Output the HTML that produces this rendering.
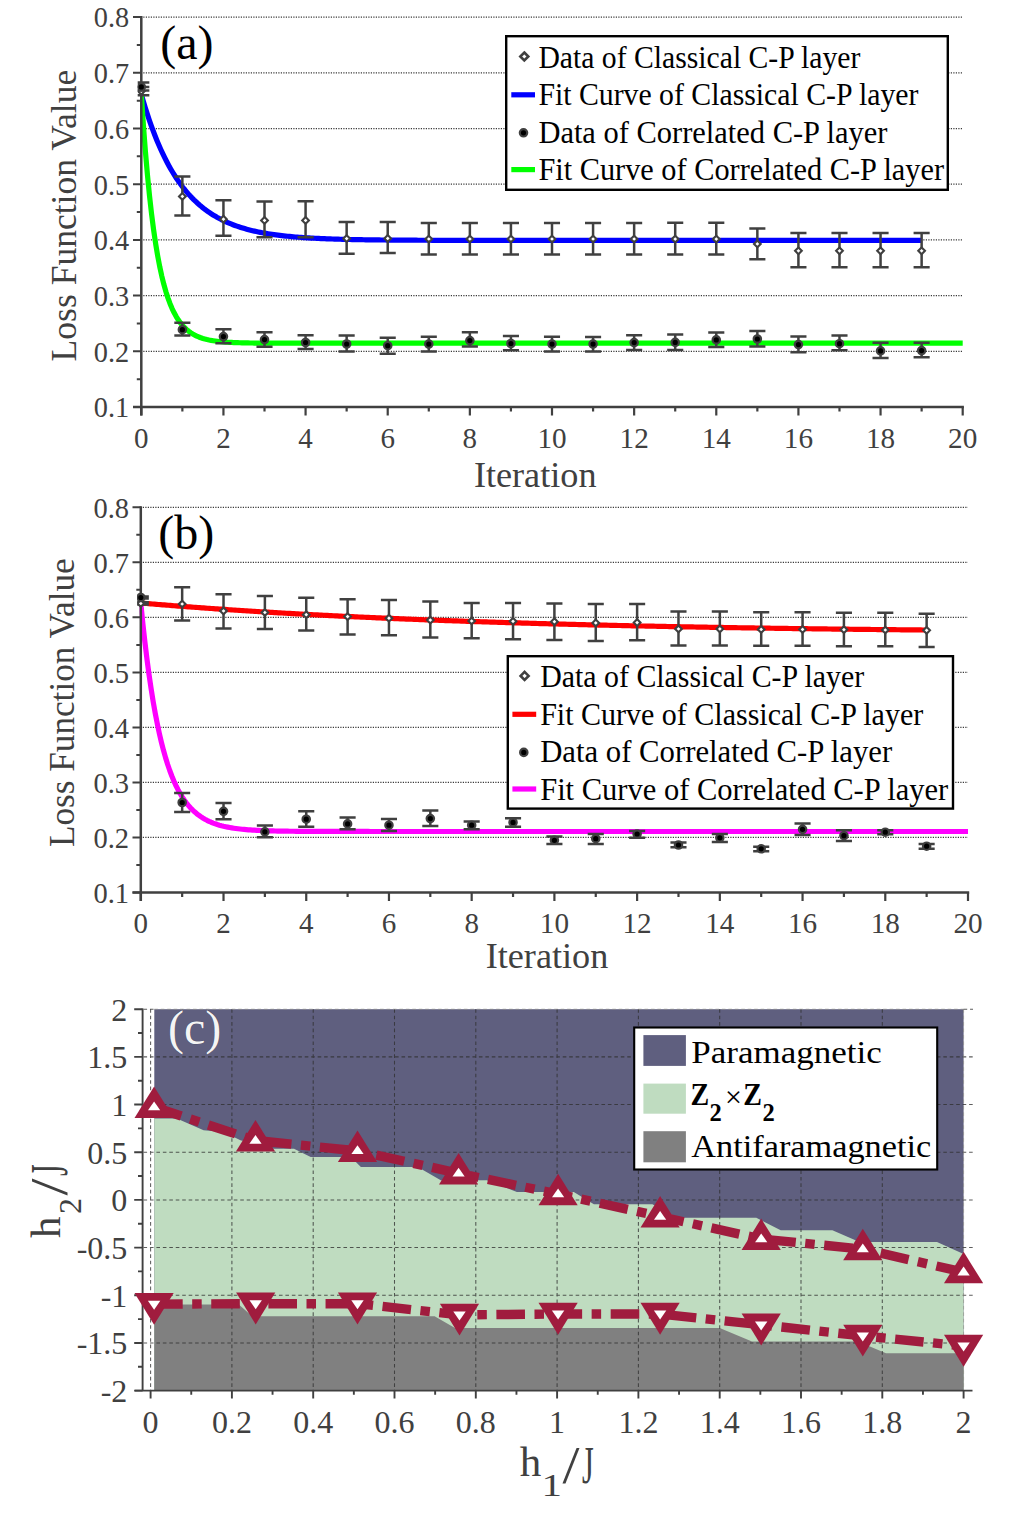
<!DOCTYPE html>
<html><head><meta charset="utf-8"><title>Figure</title>
<style>html,body{margin:0;padding:0;background:#fff}svg{display:block}text{font-family:"Liberation Serif",serif}</style>
</head><body>
<svg width="1016" height="1532" viewBox="0 0 1016 1532" font-family="'Liberation Serif', serif">
<rect width="1016" height="1532" fill="#fff"/>
<line x1="143.3" y1="351.3" x2="962.7" y2="351.3" stroke="#3a3a3a" stroke-width="1.25" stroke-dasharray="1.2 1.3"/>
<line x1="143.3" y1="295.6" x2="962.7" y2="295.6" stroke="#3a3a3a" stroke-width="1.25" stroke-dasharray="1.2 1.3"/>
<line x1="143.3" y1="239.9" x2="962.7" y2="239.9" stroke="#3a3a3a" stroke-width="1.25" stroke-dasharray="1.2 1.3"/>
<line x1="143.3" y1="184.2" x2="962.7" y2="184.2" stroke="#3a3a3a" stroke-width="1.25" stroke-dasharray="1.2 1.3"/>
<line x1="143.3" y1="128.5" x2="962.7" y2="128.5" stroke="#3a3a3a" stroke-width="1.25" stroke-dasharray="1.2 1.3"/>
<line x1="143.3" y1="72.8" x2="962.7" y2="72.8" stroke="#3a3a3a" stroke-width="1.25" stroke-dasharray="1.2 1.3"/>
<line x1="143.3" y1="17.1" x2="962.7" y2="17.1" stroke="#3a3a3a" stroke-width="1.25" stroke-dasharray="1.2 1.3"/>
<clipPath id="cca"><rect x="140.1" y="7.1" width="900" height="409.9"/></clipPath>
<clipPath id="cma"><rect x="137.7" y="7.1" width="900" height="409.9"/></clipPath>
<polyline points="141.3 94.19 143.25 100.97 145.2 107.44 147.15 113.61 149.1 119.49 151.05 125.1 153 130.45 154.96 135.55 156.91 140.41 158.86 145.05 160.81 149.47 162.76 153.69 164.71 157.71 166.66 161.55 168.61 165.21 170.56 168.7 172.51 172.02 174.46 175.19 176.41 178.22 178.37 181.1 180.32 183.85 182.27 186.48 184.22 188.98 186.17 191.36 188.12 193.64 190.07 195.81 192.02 197.88 193.97 199.85 195.92 201.73 197.87 203.53 199.82 205.24 201.78 206.87 203.73 208.42 205.68 209.91 207.63 211.32 209.58 212.67 211.53 213.96 213.48 215.18 215.43 216.35 217.38 217.47 219.33 218.53 221.28 219.55 223.23 220.51 225.19 221.44 227.14 222.32 229.09 223.16 231.04 223.96 232.99 224.72 234.94 225.45 236.89 226.14 238.84 226.8 240.79 227.43 242.74 228.03 244.69 228.61 246.64 229.15 248.6 229.68 250.55 230.17 252.5 230.65 254.45 231.1 256.4 231.53 258.35 231.94 260.3 232.34 262.25 232.71 264.2 233.07 266.15 233.41 268.1 233.73 270.05 234.04 272.01 234.34 273.96 234.62 275.91 234.89 277.86 235.14 279.81 235.39 281.76 235.62 283.71 235.84 285.66 236.05 287.61 236.25 289.56 236.45 291.51 236.63 293.46 236.8 295.42 236.97 297.37 237.13 299.32 237.28 301.27 237.43 303.22 237.56 305.17 237.7 307.12 237.82 309.07 237.94 311.02 238.06 312.97 238.16 314.92 238.27 316.87 238.37 318.83 238.46 320.78 238.55 322.73 238.64 324.68 238.72 326.63 238.8 328.58 238.87 330.53 238.94 332.48 239.01 334.43 239.07 336.38 239.14 338.33 239.19 340.28 239.25 342.23 239.3 344.19 239.36 346.14 239.4 348.09 239.45 350.04 239.49 351.99 239.54 353.94 239.58 355.89 239.61 357.84 239.65 359.79 239.69 361.74 239.72 363.69 239.75 365.64 239.78 367.6 239.81 369.55 239.84 371.5 239.86 373.45 239.89 375.4 239.91 377.35 239.93 379.3 239.96 381.25 239.98 383.2 240 385.15 240.02 387.1 240.03 389.05 240.05 391.01 240.07 392.96 240.08 394.91 240.1 396.86 240.11 398.81 240.12 400.76 240.14 402.71 240.15 404.66 240.16 406.61 240.17 408.56 240.18 410.51 240.19 412.46 240.2 414.42 240.21 416.37 240.22 418.32 240.23 420.27 240.24 422.22 240.24 424.17 240.25 426.12 240.26 428.07 240.27 430.02 240.27 431.97 240.28 433.92 240.28 435.87 240.29 437.83 240.29 439.78 240.3 441.73 240.3 443.68 240.31 445.63 240.31 447.58 240.32 449.53 240.32 451.48 240.32 453.43 240.33 455.38 240.33 457.33 240.33 459.28 240.34 461.24 240.34 463.19 240.34 465.14 240.35 467.09 240.35 469.04 240.35 470.99 240.35 472.94 240.36 474.89 240.36 476.84 240.36 478.79 240.36 480.74 240.36 482.69 240.37 484.65 240.37 486.6 240.37 488.55 240.37 490.5 240.37 492.45 240.37 494.4 240.37 496.35 240.38 498.3 240.38 500.25 240.38 502.2 240.38 504.15 240.38 506.1 240.38 508.06 240.38 510.01 240.38 511.96 240.38 513.91 240.38 515.86 240.39 517.81 240.39 519.76 240.39 521.71 240.39 523.66 240.39 525.61 240.39 527.56 240.39 529.51 240.39 531.47 240.39 533.42 240.39 535.37 240.39 537.32 240.39 539.27 240.39 541.22 240.39 543.17 240.39 545.12 240.39 547.07 240.39 549.02 240.39 550.97 240.39 552.92 240.39 554.87 240.4 556.83 240.4 558.78 240.4 560.73 240.4 562.68 240.4 564.63 240.4 566.58 240.4 568.53 240.4 570.48 240.4 572.43 240.4 574.38 240.4 576.33 240.4 578.28 240.4 580.24 240.4 582.19 240.4 584.14 240.4 586.09 240.4 588.04 240.4 589.99 240.4 591.94 240.4 593.89 240.4 595.84 240.4 597.79 240.4 599.74 240.4 601.69 240.4 603.65 240.4 605.6 240.4 607.55 240.4 609.5 240.4 611.45 240.4 613.4 240.4 615.35 240.4 617.3 240.4 619.25 240.4 621.2 240.4 623.15 240.4 625.1 240.4 627.06 240.4 629.01 240.4 630.96 240.4 632.91 240.4 634.86 240.4 636.81 240.4 638.76 240.4 640.71 240.4 642.66 240.4 644.61 240.4 646.56 240.4 648.51 240.4 650.47 240.4 652.42 240.4 654.37 240.4 656.32 240.4 658.27 240.4 660.22 240.4 662.17 240.4 664.12 240.4 666.07 240.4 668.02 240.4 669.97 240.4 671.92 240.4 673.88 240.4 675.83 240.4 677.78 240.4 679.73 240.4 681.68 240.4 683.63 240.4 685.58 240.4 687.53 240.4 689.48 240.4 691.43 240.4 693.38 240.4 695.33 240.4 697.29 240.4 699.24 240.4 701.19 240.4 703.14 240.4 705.09 240.4 707.04 240.4 708.99 240.4 710.94 240.4 712.89 240.4 714.84 240.4 716.79 240.4 718.74 240.4 720.7 240.4 722.65 240.4 724.6 240.4 726.55 240.4 728.5 240.4 730.45 240.4 732.4 240.4 734.35 240.4 736.3 240.4 738.25 240.4 740.2 240.4 742.15 240.4 744.1 240.4 746.06 240.4 748.01 240.4 749.96 240.4 751.91 240.4 753.86 240.4 755.81 240.4 757.76 240.4 759.71 240.4 761.66 240.4 763.61 240.4 765.56 240.4 767.51 240.4 769.47 240.4 771.42 240.4 773.37 240.4 775.32 240.4 777.27 240.4 779.22 240.4 781.17 240.4 783.12 240.4 785.07 240.4 787.02 240.4 788.97 240.4 790.92 240.4 792.88 240.4 794.83 240.4 796.78 240.4 798.73 240.4 800.68 240.4 802.63 240.4 804.58 240.4 806.53 240.4 808.48 240.4 810.43 240.4 812.38 240.4 814.33 240.4 816.29 240.4 818.24 240.4 820.19 240.4 822.14 240.4 824.09 240.4 826.04 240.4 827.99 240.4 829.94 240.4 831.89 240.4 833.84 240.4 835.79 240.4 837.74 240.4 839.7 240.4 841.65 240.4 843.6 240.4 845.55 240.4 847.5 240.4 849.45 240.4 851.4 240.4 853.35 240.4 855.3 240.4 857.25 240.4 859.2 240.4 861.15 240.4 863.11 240.4 865.06 240.4 867.01 240.4 868.96 240.4 870.91 240.4 872.86 240.4 874.81 240.4 876.76 240.4 878.71 240.4 880.66 240.4 882.61 240.4 884.56 240.4 886.52 240.4 888.47 240.4 890.42 240.4 892.37 240.4 894.32 240.4 896.27 240.4 898.22 240.4 900.17 240.4 902.12 240.4 904.07 240.4 906.02 240.4 907.97 240.4 909.93 240.4 911.88 240.4 913.83 240.4 915.78 240.4 917.73 240.4 919.68 240.4 921.63 240.4" fill="none" stroke="#0000ff" stroke-width="5.2" stroke-linejoin="round" clip-path="url(#cca)"/>
<polyline points="141.3 93.69 143.35 124.45 145.41 151.43 147.46 175.07 149.51 195.8 151.57 213.98 153.62 229.91 155.67 243.88 157.73 256.13 159.78 266.87 161.84 276.28 163.89 284.54 165.94 291.77 168 298.11 170.05 303.68 172.1 308.55 174.16 312.83 176.21 316.57 178.26 319.86 180.32 322.74 182.37 325.27 184.42 327.48 186.48 329.42 188.53 331.12 190.58 332.61 192.64 333.92 194.69 335.07 196.74 336.07 198.8 336.96 200.85 337.73 202.91 338.41 204.96 339 207.01 339.52 209.07 339.98 211.12 340.38 213.17 340.73 215.23 341.04 217.28 341.31 219.33 341.54 221.39 341.75 223.44 341.93 225.49 342.09 227.55 342.23 229.6 342.35 231.65 342.46 233.71 342.55 235.76 342.64 237.81 342.71 239.87 342.77 241.92 342.83 243.98 342.88 246.03 342.92 248.08 342.96 250.14 342.99 252.19 343.02 254.24 343.04 256.3 343.07 258.35 343.09 260.4 343.1 262.46 343.12 264.51 343.13 266.56 343.14 268.62 343.15 270.67 343.16 272.72 343.17 274.78 343.18 276.83 343.18 278.88 343.19 280.94 343.19 282.99 343.2 285.05 343.2 287.1 343.2 289.15 343.2 291.21 343.21 293.26 343.21 295.31 343.21 297.37 343.21 299.42 343.21 301.47 343.21 303.53 343.22 305.58 343.22 307.63 343.22 309.69 343.22 311.74 343.22 313.79 343.22 315.85 343.22 317.9 343.22 319.95 343.22 322.01 343.22 324.06 343.22 326.12 343.22 328.17 343.22 330.22 343.22 332.28 343.22 334.33 343.22 336.38 343.22 338.44 343.22 340.49 343.22 342.54 343.22 344.6 343.22 346.65 343.22 348.7 343.22 350.76 343.22 352.81 343.22 354.86 343.22 356.92 343.22 358.97 343.22 361.02 343.22 363.08 343.22 365.13 343.22 367.19 343.22 369.24 343.22 371.29 343.22 373.35 343.22 375.4 343.22 377.45 343.22 379.51 343.22 381.56 343.22 383.61 343.22 385.67 343.22 387.72 343.22 389.77 343.22 391.83 343.22 393.88 343.22 395.93 343.22 397.99 343.22 400.04 343.22 402.09 343.22 404.15 343.22 406.2 343.22 408.25 343.22 410.31 343.22 412.36 343.22 414.42 343.22 416.47 343.22 418.52 343.22 420.58 343.22 422.63 343.22 424.68 343.22 426.74 343.22 428.79 343.22 430.84 343.22 432.9 343.22 434.95 343.22 437 343.22 439.06 343.22 441.11 343.22 443.16 343.22 445.22 343.22 447.27 343.22 449.32 343.22 451.38 343.22 453.43 343.22 455.49 343.22 457.54 343.22 459.59 343.22 461.65 343.22 463.7 343.22 465.75 343.22 467.81 343.22 469.86 343.22 471.91 343.22 473.97 343.22 476.02 343.22 478.07 343.22 480.13 343.22 482.18 343.22 484.23 343.22 486.29 343.22 488.34 343.22 490.4 343.22 492.45 343.22 494.5 343.22 496.56 343.22 498.61 343.22 500.66 343.22 502.72 343.22 504.77 343.22 506.82 343.22 508.88 343.22 510.93 343.22 512.98 343.22 515.04 343.22 517.09 343.22 519.14 343.22 521.2 343.22 523.25 343.22 525.3 343.22 527.36 343.22 529.41 343.22 531.47 343.22 533.52 343.22 535.57 343.22 537.63 343.22 539.68 343.22 541.73 343.22 543.79 343.22 545.84 343.22 547.89 343.22 549.95 343.22 552 343.22 554.05 343.22 556.11 343.22 558.16 343.22 560.21 343.22 562.27 343.22 564.32 343.22 566.37 343.22 568.43 343.22 570.48 343.22 572.54 343.22 574.59 343.22 576.64 343.22 578.7 343.22 580.75 343.22 582.8 343.22 584.86 343.22 586.91 343.22 588.96 343.22 591.02 343.22 593.07 343.22 595.12 343.22 597.18 343.22 599.23 343.22 601.28 343.22 603.34 343.22 605.39 343.22 607.44 343.22 609.5 343.22 611.55 343.22 613.61 343.22 615.66 343.22 617.71 343.22 619.77 343.22 621.82 343.22 623.87 343.22 625.93 343.22 627.98 343.22 630.03 343.22 632.09 343.22 634.14 343.22 636.19 343.22 638.25 343.22 640.3 343.22 642.35 343.22 644.41 343.22 646.46 343.22 648.51 343.22 650.57 343.22 652.62 343.22 654.67 343.22 656.73 343.22 658.78 343.22 660.84 343.22 662.89 343.22 664.94 343.22 667 343.22 669.05 343.22 671.1 343.22 673.16 343.22 675.21 343.22 677.26 343.22 679.32 343.22 681.37 343.22 683.42 343.22 685.48 343.22 687.53 343.22 689.58 343.22 691.64 343.22 693.69 343.22 695.75 343.22 697.8 343.22 699.85 343.22 701.91 343.22 703.96 343.22 706.01 343.22 708.07 343.22 710.12 343.22 712.17 343.22 714.23 343.22 716.28 343.22 718.33 343.22 720.39 343.22 722.44 343.22 724.49 343.22 726.55 343.22 728.6 343.22 730.65 343.22 732.71 343.22 734.76 343.22 736.82 343.22 738.87 343.22 740.92 343.22 742.98 343.22 745.03 343.22 747.08 343.22 749.14 343.22 751.19 343.22 753.24 343.22 755.3 343.22 757.35 343.22 759.4 343.22 761.46 343.22 763.51 343.22 765.56 343.22 767.62 343.22 769.67 343.22 771.72 343.22 773.78 343.22 775.83 343.22 777.88 343.22 779.94 343.22 781.99 343.22 784.05 343.22 786.1 343.22 788.15 343.22 790.21 343.22 792.26 343.22 794.31 343.22 796.37 343.22 798.42 343.22 800.47 343.22 802.53 343.22 804.58 343.22 806.63 343.22 808.69 343.22 810.74 343.22 812.79 343.22 814.85 343.22 816.9 343.22 818.95 343.22 821.01 343.22 823.06 343.22 825.12 343.22 827.17 343.22 829.22 343.22 831.28 343.22 833.33 343.22 835.38 343.22 837.44 343.22 839.49 343.22 841.54 343.22 843.6 343.22 845.65 343.22 847.7 343.22 849.76 343.22 851.81 343.22 853.86 343.22 855.92 343.22 857.97 343.22 860.03 343.22 862.08 343.22 864.13 343.22 866.19 343.22 868.24 343.22 870.29 343.22 872.35 343.22 874.4 343.22 876.45 343.22 878.51 343.22 880.56 343.22 882.61 343.22 884.67 343.22 886.72 343.22 888.77 343.22 890.83 343.22 892.88 343.22 894.93 343.22 896.99 343.22 899.04 343.22 901.1 343.22 903.15 343.22 905.2 343.22 907.26 343.22 909.31 343.22 911.36 343.22 913.42 343.22 915.47 343.22 917.52 343.22 919.58 343.22 921.63 343.22 923.68 343.22 925.74 343.22 927.79 343.22 929.84 343.22 931.9 343.22 933.95 343.22 936 343.22 938.06 343.22 940.11 343.22 942.16 343.22 944.22 343.22 946.27 343.22 948.33 343.22 950.38 343.22 952.43 343.22 954.49 343.22 956.54 343.22 958.59 343.22 960.65 343.22 962.7 343.22" fill="none" stroke="#00ff00" stroke-width="5.2" stroke-linejoin="round" clip-path="url(#cca)"/>
<path d="M141.3 16.1V415.6M133 407H963.9" stroke="#404040" stroke-width="2.5" fill="none"/>
<path d="M133 407H141.3M136.8 379.15H141.3M133 351.3H141.3M136.8 323.45H141.3M133 295.6H141.3M136.8 267.75H141.3M133 239.9H141.3M136.8 212.05H141.3M133 184.2H141.3M136.8 156.35H141.3M133 128.5H141.3M136.8 100.65H141.3M133 72.8H141.3M136.8 44.95H141.3M133 17.1H141.3" stroke="#404040" stroke-width="2" fill="none"/>
<path d="M141.3 407V415.6M182.37 407V411.6M223.44 407V415.6M264.51 407V411.6M305.58 407V415.6M346.65 407V411.6M387.72 407V415.6M428.79 407V411.6M469.86 407V415.6M510.93 407V411.6M552 407V415.6M593.07 407V411.6M634.14 407V415.6M675.21 407V411.6M716.28 407V415.6M757.35 407V411.6M798.42 407V415.6M839.49 407V411.6M880.56 407V415.6M921.63 407V411.6M962.7 407V415.6" stroke="#404040" stroke-width="2.2" fill="none"/>
<text x="129.2" y="417.3" font-size="29" fill="#404040" text-anchor="end" textLength="35.4" lengthAdjust="spacingAndGlyphs">0.1</text>
<text x="129.2" y="361.6" font-size="29" fill="#404040" text-anchor="end" textLength="35.4" lengthAdjust="spacingAndGlyphs">0.2</text>
<text x="129.2" y="305.9" font-size="29" fill="#404040" text-anchor="end" textLength="35.4" lengthAdjust="spacingAndGlyphs">0.3</text>
<text x="129.2" y="250.2" font-size="29" fill="#404040" text-anchor="end" textLength="35.4" lengthAdjust="spacingAndGlyphs">0.4</text>
<text x="129.2" y="194.5" font-size="29" fill="#404040" text-anchor="end" textLength="35.4" lengthAdjust="spacingAndGlyphs">0.5</text>
<text x="129.2" y="138.8" font-size="29" fill="#404040" text-anchor="end" textLength="35.4" lengthAdjust="spacingAndGlyphs">0.6</text>
<text x="129.2" y="83.1" font-size="29" fill="#404040" text-anchor="end" textLength="35.4" lengthAdjust="spacingAndGlyphs">0.7</text>
<text x="129.2" y="27.4" font-size="29" fill="#404040" text-anchor="end" textLength="35.4" lengthAdjust="spacingAndGlyphs">0.8</text>
<text x="141.3" y="447.6" font-size="29" fill="#404040" text-anchor="middle">0</text>
<text x="223.44" y="447.6" font-size="29" fill="#404040" text-anchor="middle">2</text>
<text x="305.58" y="447.6" font-size="29" fill="#404040" text-anchor="middle">4</text>
<text x="387.72" y="447.6" font-size="29" fill="#404040" text-anchor="middle">6</text>
<text x="469.86" y="447.6" font-size="29" fill="#404040" text-anchor="middle">8</text>
<text x="552" y="447.6" font-size="29" fill="#404040" text-anchor="middle" textLength="29.2" lengthAdjust="spacingAndGlyphs">10</text>
<text x="634.14" y="447.6" font-size="29" fill="#404040" text-anchor="middle" textLength="29.2" lengthAdjust="spacingAndGlyphs">12</text>
<text x="716.28" y="447.6" font-size="29" fill="#404040" text-anchor="middle" textLength="29.2" lengthAdjust="spacingAndGlyphs">14</text>
<text x="798.42" y="447.6" font-size="29" fill="#404040" text-anchor="middle" textLength="29.2" lengthAdjust="spacingAndGlyphs">16</text>
<text x="880.56" y="447.6" font-size="29" fill="#404040" text-anchor="middle" textLength="29.2" lengthAdjust="spacingAndGlyphs">18</text>
<text x="962.7" y="447.6" font-size="29" fill="#404040" text-anchor="middle" textLength="29.2" lengthAdjust="spacingAndGlyphs">20</text>
<g clip-path="url(#cma)">
<path d="M141.3 87V95.3M133.25 87H149.35M133.25 95.3H149.35" stroke="#404040" stroke-width="2.5" fill="none"/>
<path d="M182.37 176.4V215.6M174.32 176.4H190.42M174.32 215.6H190.42" stroke="#404040" stroke-width="2.5" fill="none"/>
<path d="M223.44 200.2V235.8M215.39 200.2H231.49M215.39 235.8H231.49" stroke="#404040" stroke-width="2.5" fill="none"/>
<path d="M264.51 201.5V237.3M256.46 201.5H272.56M256.46 237.3H272.56" stroke="#404040" stroke-width="2.5" fill="none"/>
<path d="M305.58 201.2V237.3M297.53 201.2H313.63M297.53 237.3H313.63" stroke="#404040" stroke-width="2.5" fill="none"/>
<path d="M346.65 222V253.7M338.6 222H354.7M338.6 253.7H354.7" stroke="#404040" stroke-width="2.5" fill="none"/>
<path d="M387.72 221.9V252.9M379.67 221.9H395.77M379.67 252.9H395.77" stroke="#404040" stroke-width="2.5" fill="none"/>
<path d="M428.79 223.1V254.4M420.74 223.1H436.84M420.74 254.4H436.84" stroke="#404040" stroke-width="2.5" fill="none"/>
<path d="M469.86 223.1V254.4M461.81 223.1H477.91M461.81 254.4H477.91" stroke="#404040" stroke-width="2.5" fill="none"/>
<path d="M510.93 223.1V254.4M502.88 223.1H518.98M502.88 254.4H518.98" stroke="#404040" stroke-width="2.5" fill="none"/>
<path d="M552 223.1V254.4M543.95 223.1H560.05M543.95 254.4H560.05" stroke="#404040" stroke-width="2.5" fill="none"/>
<path d="M593.07 223.1V254.4M585.02 223.1H601.12M585.02 254.4H601.12" stroke="#404040" stroke-width="2.5" fill="none"/>
<path d="M634.14 223.1V254.4M626.09 223.1H642.19M626.09 254.4H642.19" stroke="#404040" stroke-width="2.5" fill="none"/>
<path d="M675.21 222.8V254.6M667.16 222.8H683.26M667.16 254.6H683.26" stroke="#404040" stroke-width="2.5" fill="none"/>
<path d="M716.28 222.8V254.6M708.23 222.8H724.33M708.23 254.6H724.33" stroke="#404040" stroke-width="2.5" fill="none"/>
<path d="M757.35 228.4V259.3M749.3 228.4H765.4M749.3 259.3H765.4" stroke="#404040" stroke-width="2.5" fill="none"/>
<path d="M798.42 233.1V267.2M790.37 233.1H806.47M790.37 267.2H806.47" stroke="#404040" stroke-width="2.5" fill="none"/>
<path d="M839.49 233.1V267.2M831.44 233.1H847.54M831.44 267.2H847.54" stroke="#404040" stroke-width="2.5" fill="none"/>
<path d="M880.56 233.1V267.2M872.51 233.1H888.61M872.51 267.2H888.61" stroke="#404040" stroke-width="2.5" fill="none"/>
<path d="M921.63 233.1V267.2M913.58 233.1H929.68M913.58 267.2H929.68" stroke="#404040" stroke-width="2.5" fill="none"/>
<path d="M141.3 87.85L144.65 91.2L141.3 94.55L137.95 91.2Z" fill="#fff" stroke="#404040" stroke-width="2.1"/>
<path d="M182.37 193.05L185.72 196.4L182.37 199.75L179.02 196.4Z" fill="#fff" stroke="#404040" stroke-width="2.1"/>
<path d="M223.44 215.85L226.79 219.2L223.44 222.55L220.09 219.2Z" fill="#fff" stroke="#404040" stroke-width="2.1"/>
<path d="M264.51 217.05L267.86 220.4L264.51 223.75L261.16 220.4Z" fill="#fff" stroke="#404040" stroke-width="2.1"/>
<path d="M305.58 217.05L308.93 220.4L305.58 223.75L302.23 220.4Z" fill="#fff" stroke="#404040" stroke-width="2.1"/>
<path d="M346.65 235.25L350 238.6L346.65 241.95L343.3 238.6Z" fill="#fff" stroke="#404040" stroke-width="2.1"/>
<path d="M387.72 235.05L391.07 238.4L387.72 241.75L384.37 238.4Z" fill="#fff" stroke="#404040" stroke-width="2.1"/>
<path d="M428.79 235.65L432.14 239L428.79 242.35L425.44 239Z" fill="#fff" stroke="#404040" stroke-width="2.1"/>
<path d="M469.86 235.65L473.21 239L469.86 242.35L466.51 239Z" fill="#fff" stroke="#404040" stroke-width="2.1"/>
<path d="M510.93 235.65L514.28 239L510.93 242.35L507.58 239Z" fill="#fff" stroke="#404040" stroke-width="2.1"/>
<path d="M552 235.65L555.35 239L552 242.35L548.65 239Z" fill="#fff" stroke="#404040" stroke-width="2.1"/>
<path d="M593.07 235.65L596.42 239L593.07 242.35L589.72 239Z" fill="#fff" stroke="#404040" stroke-width="2.1"/>
<path d="M634.14 235.65L637.49 239L634.14 242.35L630.79 239Z" fill="#fff" stroke="#404040" stroke-width="2.1"/>
<path d="M675.21 235.75L678.56 239.1L675.21 242.45L671.86 239.1Z" fill="#fff" stroke="#404040" stroke-width="2.1"/>
<path d="M716.28 235.75L719.63 239.1L716.28 242.45L712.93 239.1Z" fill="#fff" stroke="#404040" stroke-width="2.1"/>
<path d="M757.35 240.55L760.7 243.9L757.35 247.25L754 243.9Z" fill="#fff" stroke="#404040" stroke-width="2.1"/>
<path d="M798.42 247.45L801.77 250.8L798.42 254.15L795.07 250.8Z" fill="#fff" stroke="#404040" stroke-width="2.1"/>
<path d="M839.49 247.45L842.84 250.8L839.49 254.15L836.14 250.8Z" fill="#fff" stroke="#404040" stroke-width="2.1"/>
<path d="M880.56 247.45L883.91 250.8L880.56 254.15L877.21 250.8Z" fill="#fff" stroke="#404040" stroke-width="2.1"/>
<path d="M921.63 247.45L924.98 250.8L921.63 254.15L918.28 250.8Z" fill="#fff" stroke="#404040" stroke-width="2.1"/>
<path d="M141.3 82.5V90.5M133.25 82.5H149.35M133.25 90.5H149.35" stroke="#404040" stroke-width="2.5" fill="none"/>
<path d="M182.37 322.8V335.5M174.32 322.8H190.42M174.32 335.5H190.42" stroke="#404040" stroke-width="2.5" fill="none"/>
<path d="M223.44 329.2V343.2M215.39 329.2H231.49M215.39 343.2H231.49" stroke="#404040" stroke-width="2.5" fill="none"/>
<path d="M264.51 332.2V346.8M256.46 332.2H272.56M256.46 346.8H272.56" stroke="#404040" stroke-width="2.5" fill="none"/>
<path d="M305.58 335.3V349.1M297.53 335.3H313.63M297.53 349.1H313.63" stroke="#404040" stroke-width="2.5" fill="none"/>
<path d="M346.65 335.5V351.4M338.6 335.5H354.7M338.6 351.4H354.7" stroke="#404040" stroke-width="2.5" fill="none"/>
<path d="M387.72 337.8V353.7M379.67 337.8H395.77M379.67 353.7H395.77" stroke="#404040" stroke-width="2.5" fill="none"/>
<path d="M428.79 336.7V351.5M420.74 336.7H436.84M420.74 351.5H436.84" stroke="#404040" stroke-width="2.5" fill="none"/>
<path d="M469.86 332.3V346.6M461.81 332.3H477.91M461.81 346.6H477.91" stroke="#404040" stroke-width="2.5" fill="none"/>
<path d="M510.93 336.1V350.3M502.88 336.1H518.98M502.88 350.3H518.98" stroke="#404040" stroke-width="2.5" fill="none"/>
<path d="M552 336.7V351.5M543.95 336.7H560.05M543.95 351.5H560.05" stroke="#404040" stroke-width="2.5" fill="none"/>
<path d="M593.07 336.9V351.5M585.02 336.9H601.12M585.02 351.5H601.12" stroke="#404040" stroke-width="2.5" fill="none"/>
<path d="M634.14 335.3V350M626.09 335.3H642.19M626.09 350H642.19" stroke="#404040" stroke-width="2.5" fill="none"/>
<path d="M675.21 334.6V350M667.16 334.6H683.26M667.16 350H683.26" stroke="#404040" stroke-width="2.5" fill="none"/>
<path d="M716.28 332.4V346.9M708.23 332.4H724.33M708.23 346.9H724.33" stroke="#404040" stroke-width="2.5" fill="none"/>
<path d="M757.35 331.1V346.5M749.3 331.1H765.4M749.3 346.5H765.4" stroke="#404040" stroke-width="2.5" fill="none"/>
<path d="M798.42 336.5V352.2M790.37 336.5H806.47M790.37 352.2H806.47" stroke="#404040" stroke-width="2.5" fill="none"/>
<path d="M839.49 335.5V350.3M831.44 335.5H847.54M831.44 350.3H847.54" stroke="#404040" stroke-width="2.5" fill="none"/>
<path d="M880.56 342.8V357.9M872.51 342.8H888.61M872.51 357.9H888.61" stroke="#404040" stroke-width="2.5" fill="none"/>
<path d="M921.63 342.8V357.2M913.58 342.8H929.68M913.58 357.2H929.68" stroke="#404040" stroke-width="2.5" fill="none"/>
<circle cx="141.3" cy="86.9" r="3.7" fill="#000" stroke="#404040" stroke-width="2.2"/>
<circle cx="182.37" cy="329.7" r="3.7" fill="#000" stroke="#404040" stroke-width="2.2"/>
<circle cx="223.44" cy="336.6" r="3.7" fill="#000" stroke="#404040" stroke-width="2.2"/>
<circle cx="264.51" cy="339.6" r="3.7" fill="#000" stroke="#404040" stroke-width="2.2"/>
<circle cx="305.58" cy="342.5" r="3.7" fill="#000" stroke="#404040" stroke-width="2.2"/>
<circle cx="346.65" cy="344" r="3.7" fill="#000" stroke="#404040" stroke-width="2.2"/>
<circle cx="387.72" cy="345.7" r="3.7" fill="#000" stroke="#404040" stroke-width="2.2"/>
<circle cx="428.79" cy="344.1" r="3.7" fill="#000" stroke="#404040" stroke-width="2.2"/>
<circle cx="469.86" cy="340.6" r="3.7" fill="#000" stroke="#404040" stroke-width="2.2"/>
<circle cx="510.93" cy="343.5" r="3.7" fill="#000" stroke="#404040" stroke-width="2.2"/>
<circle cx="552" cy="344.1" r="3.7" fill="#000" stroke="#404040" stroke-width="2.2"/>
<circle cx="593.07" cy="344.1" r="3.7" fill="#000" stroke="#404040" stroke-width="2.2"/>
<circle cx="634.14" cy="342.6" r="3.7" fill="#000" stroke="#404040" stroke-width="2.2"/>
<circle cx="675.21" cy="342.4" r="3.7" fill="#000" stroke="#404040" stroke-width="2.2"/>
<circle cx="716.28" cy="339.9" r="3.7" fill="#000" stroke="#404040" stroke-width="2.2"/>
<circle cx="757.35" cy="339" r="3.7" fill="#000" stroke="#404040" stroke-width="2.2"/>
<circle cx="798.42" cy="344.6" r="3.7" fill="#000" stroke="#404040" stroke-width="2.2"/>
<circle cx="839.49" cy="343.7" r="3.7" fill="#000" stroke="#404040" stroke-width="2.2"/>
<circle cx="880.56" cy="350.9" r="3.7" fill="#000" stroke="#404040" stroke-width="2.2"/>
<circle cx="921.63" cy="350.6" r="3.7" fill="#000" stroke="#404040" stroke-width="2.2"/>
</g>
<text x="473.9" y="487" font-size="35" fill="#404040" textLength="122.6" lengthAdjust="spacingAndGlyphs">Iteration</text>
<text transform="translate(76.3 361.4) rotate(-90)" font-size="35" fill="#404040" textLength="291.6" lengthAdjust="spacingAndGlyphs">Loss Function Value</text>
<text x="160.2" y="59" font-size="48" fill="#000">(a)</text>
<rect x="506.2" y="36.2" width="441.6" height="153.6" fill="#fff" stroke="#000" stroke-width="2.4"/>
<text x="538.4" y="68" font-size="31.3" fill="#000" textLength="322" lengthAdjust="spacingAndGlyphs">Data of Classical C-P layer</text>
<text x="538.4" y="105.3" font-size="31.3" fill="#000" textLength="380" lengthAdjust="spacingAndGlyphs">Fit Curve of Classical C-P layer</text>
<text x="538.4" y="142.8" font-size="31.3" fill="#000" textLength="349" lengthAdjust="spacingAndGlyphs">Data of Correlated C-P layer</text>
<text x="538.4" y="180.4" font-size="31.3" fill="#000" textLength="405.6" lengthAdjust="spacingAndGlyphs">Fit Curve of Correlated C-P layer</text>
<path d="M524.3 52.5L528.3 56.5L524.3 60.5L520.3 56.5Z" fill="#fff" stroke="#404040" stroke-width="2.6"/>
<line x1="511.3" x2="535" y1="94.8" y2="94.8" stroke="#0000ff" stroke-width="5.2"/>
<circle cx="523.5" cy="132.8" r="3.7" fill="#000" stroke="#404040" stroke-width="2.2"/>
<line x1="511.3" x2="535" y1="169.6" y2="169.6" stroke="#00ff00" stroke-width="5.2"/>
<line x1="142.8" y1="837.48" x2="968" y2="837.48" stroke="#3a3a3a" stroke-width="1.25" stroke-dasharray="1.2 1.3"/>
<line x1="142.8" y1="782.45" x2="968" y2="782.45" stroke="#3a3a3a" stroke-width="1.25" stroke-dasharray="1.2 1.3"/>
<line x1="142.8" y1="727.42" x2="968" y2="727.42" stroke="#3a3a3a" stroke-width="1.25" stroke-dasharray="1.2 1.3"/>
<line x1="142.8" y1="672.39" x2="968" y2="672.39" stroke="#3a3a3a" stroke-width="1.25" stroke-dasharray="1.2 1.3"/>
<line x1="142.8" y1="617.36" x2="968" y2="617.36" stroke="#3a3a3a" stroke-width="1.25" stroke-dasharray="1.2 1.3"/>
<line x1="142.8" y1="562.33" x2="968" y2="562.33" stroke="#3a3a3a" stroke-width="1.25" stroke-dasharray="1.2 1.3"/>
<line x1="142.8" y1="507.3" x2="968" y2="507.3" stroke="#3a3a3a" stroke-width="1.25" stroke-dasharray="1.2 1.3"/>
<clipPath id="ccb"><rect x="139.6" y="497.3" width="900" height="405.21"/></clipPath>
<clipPath id="cmb"><rect x="137.2" y="497.3" width="900" height="405.21"/></clipPath>
<polyline points="140.8 603 142.76 603.17 144.73 603.33 146.69 603.5 148.66 603.67 150.62 603.83 152.59 604 154.55 604.16 156.52 604.32 158.48 604.48 160.45 604.64 162.41 604.8 164.38 604.96 166.34 605.12 168.3 605.27 170.27 605.43 172.23 605.59 174.2 605.74 176.16 605.89 178.13 606.05 180.09 606.2 182.06 606.35 184.02 606.5 185.99 606.65 187.95 606.8 189.92 606.94 191.88 607.09 193.84 607.24 195.81 607.38 197.77 607.53 199.74 607.67 201.7 607.81 203.67 607.95 205.63 608.09 207.6 608.23 209.56 608.37 211.53 608.51 213.49 608.65 215.45 608.79 217.42 608.92 219.38 609.06 221.35 609.19 223.31 609.33 225.28 609.46 227.24 609.59 229.21 609.73 231.17 609.86 233.14 609.99 235.1 610.12 237.07 610.25 239.03 610.38 240.99 610.5 242.96 610.63 244.92 610.76 246.89 610.88 248.85 611.01 250.82 611.13 252.78 611.25 254.75 611.38 256.71 611.5 258.68 611.62 260.64 611.74 262.61 611.86 264.57 611.98 266.53 612.1 268.5 612.22 270.46 612.33 272.43 612.45 274.39 612.57 276.36 612.68 278.32 612.8 280.29 612.91 282.25 613.02 284.22 613.14 286.18 613.25 288.14 613.36 290.11 613.47 292.07 613.58 294.04 613.69 296 613.8 297.97 613.91 299.93 614.02 301.9 614.12 303.86 614.23 305.83 614.34 307.79 614.44 309.76 614.55 311.72 614.65 313.68 614.75 315.65 614.86 317.61 614.96 319.58 615.06 321.54 615.16 323.51 615.26 325.47 615.36 327.44 615.46 329.4 615.56 331.37 615.66 333.33 615.76 335.3 615.86 337.26 615.95 339.22 616.05 341.19 616.15 343.15 616.24 345.12 616.34 347.08 616.43 349.05 616.53 351.01 616.62 352.98 616.71 354.94 616.8 356.91 616.9 358.87 616.99 360.84 617.08 362.8 617.17 364.76 617.26 366.73 617.35 368.69 617.44 370.66 617.52 372.62 617.61 374.59 617.7 376.55 617.79 378.52 617.87 380.48 617.96 382.45 618.04 384.41 618.13 386.38 618.21 388.34 618.3 390.3 618.38 392.27 618.46 394.23 618.54 396.2 618.63 398.16 618.71 400.13 618.79 402.09 618.87 404.06 618.95 406.02 619.03 407.99 619.11 409.95 619.19 411.91 619.27 413.88 619.34 415.84 619.42 417.81 619.5 419.77 619.58 421.74 619.65 423.7 619.73 425.67 619.8 427.63 619.88 429.6 619.95 431.56 620.03 433.53 620.1 435.49 620.17 437.45 620.25 439.42 620.32 441.38 620.39 443.35 620.46 445.31 620.53 447.28 620.61 449.24 620.68 451.21 620.75 453.17 620.82 455.14 620.89 457.1 620.95 459.07 621.02 461.03 621.09 462.99 621.16 464.96 621.23 466.92 621.29 468.89 621.36 470.85 621.43 472.82 621.49 474.78 621.56 476.75 621.62 478.71 621.69 480.68 621.75 482.64 621.82 484.61 621.88 486.57 621.94 488.53 622.01 490.5 622.07 492.46 622.13 494.43 622.19 496.39 622.26 498.36 622.32 500.32 622.38 502.29 622.44 504.25 622.5 506.22 622.56 508.18 622.62 510.14 622.68 512.11 622.74 514.07 622.8 516.04 622.85 518 622.91 519.97 622.97 521.93 623.03 523.9 623.08 525.86 623.14 527.83 623.2 529.79 623.25 531.76 623.31 533.72 623.37 535.68 623.42 537.65 623.48 539.61 623.53 541.58 623.58 543.54 623.64 545.51 623.69 547.47 623.74 549.44 623.8 551.4 623.85 553.37 623.9 555.33 623.96 557.3 624.01 559.26 624.06 561.22 624.11 563.19 624.16 565.15 624.21 567.12 624.26 569.08 624.31 571.05 624.36 573.01 624.41 574.98 624.46 576.94 624.51 578.91 624.56 580.87 624.61 582.84 624.66 584.8 624.7 586.76 624.75 588.73 624.8 590.69 624.85 592.66 624.89 594.62 624.94 596.59 624.99 598.55 625.03 600.52 625.08 602.48 625.12 604.45 625.17 606.41 625.21 608.37 625.26 610.34 625.3 612.3 625.35 614.27 625.39 616.23 625.44 618.2 625.48 620.16 625.52 622.13 625.57 624.09 625.61 626.06 625.65 628.02 625.69 629.99 625.74 631.95 625.78 633.91 625.82 635.88 625.86 637.84 625.9 639.81 625.94 641.77 625.98 643.74 626.02 645.7 626.07 647.67 626.11 649.63 626.15 651.6 626.18 653.56 626.22 655.53 626.26 657.49 626.3 659.45 626.34 661.42 626.38 663.38 626.42 665.35 626.46 667.31 626.49 669.28 626.53 671.24 626.57 673.21 626.61 675.17 626.64 677.14 626.68 679.1 626.72 681.07 626.75 683.03 626.79 684.99 626.83 686.96 626.86 688.92 626.9 690.89 626.93 692.85 626.97 694.82 627 696.78 627.04 698.75 627.07 700.71 627.11 702.68 627.14 704.64 627.18 706.6 627.21 708.57 627.24 710.53 627.28 712.5 627.31 714.46 627.34 716.43 627.38 718.39 627.41 720.36 627.44 722.32 627.47 724.29 627.51 726.25 627.54 728.22 627.57 730.18 627.6 732.14 627.63 734.11 627.67 736.07 627.7 738.04 627.73 740 627.76 741.97 627.79 743.93 627.82 745.9 627.85 747.86 627.88 749.83 627.91 751.79 627.94 753.76 627.97 755.72 628 757.68 628.03 759.65 628.06 761.61 628.09 763.58 628.12 765.54 628.14 767.51 628.17 769.47 628.2 771.44 628.23 773.4 628.26 775.37 628.29 777.33 628.31 779.3 628.34 781.26 628.37 783.22 628.4 785.19 628.42 787.15 628.45 789.12 628.48 791.08 628.5 793.05 628.53 795.01 628.56 796.98 628.58 798.94 628.61 800.91 628.63 802.87 628.66 804.83 628.69 806.8 628.71 808.76 628.74 810.73 628.76 812.69 628.79 814.66 628.81 816.62 628.84 818.59 628.86 820.55 628.89 822.52 628.91 824.48 628.93 826.45 628.96 828.41 628.98 830.37 629.01 832.34 629.03 834.3 629.05 836.27 629.08 838.23 629.1 840.2 629.12 842.16 629.15 844.13 629.17 846.09 629.19 848.06 629.22 850.02 629.24 851.99 629.26 853.95 629.28 855.91 629.3 857.88 629.33 859.84 629.35 861.81 629.37 863.77 629.39 865.74 629.41 867.7 629.44 869.67 629.46 871.63 629.48 873.6 629.5 875.56 629.52 877.53 629.54 879.49 629.56 881.45 629.58 883.42 629.6 885.38 629.62 887.35 629.64 889.31 629.66 891.28 629.68 893.24 629.7 895.21 629.72 897.17 629.74 899.14 629.76 901.1 629.78 903.06 629.8 905.03 629.82 906.99 629.84 908.96 629.86 910.92 629.88 912.89 629.9 914.85 629.92 916.82 629.93 918.78 629.95 920.75 629.97 922.71 629.99 924.68 630.01 926.64 630.03" fill="none" stroke="#ff0000" stroke-width="5.2" stroke-linejoin="round" clip-path="url(#ccb)"/>
<polyline points="140.8 603.11 142.87 623.67 144.94 642.38 147 659.4 149.07 674.89 151.14 688.99 153.21 701.82 155.28 713.49 157.34 724.11 159.41 733.78 161.48 742.57 163.55 750.58 165.62 757.86 167.68 764.49 169.75 770.52 171.82 776.01 173.89 781 175.96 785.55 178.02 789.68 180.09 793.45 182.16 796.87 184.23 799.99 186.3 802.82 188.36 805.4 190.43 807.75 192.5 809.89 194.57 811.83 196.64 813.6 198.7 815.21 200.77 816.67 202.84 818.01 204.91 819.22 206.98 820.32 209.04 821.33 211.11 822.24 213.18 823.07 215.25 823.83 217.32 824.52 219.38 825.15 221.45 825.72 223.52 826.24 225.59 826.71 227.66 827.14 229.72 827.53 231.79 827.88 233.86 828.21 235.93 828.5 238 828.77 240.06 829.02 242.13 829.24 244.2 829.44 246.27 829.62 248.34 829.79 250.4 829.94 252.47 830.08 254.54 830.21 256.61 830.32 258.68 830.43 260.74 830.52 262.81 830.61 264.88 830.69 266.95 830.76 269.02 830.82 271.08 830.88 273.15 830.94 275.22 830.99 277.29 831.03 279.36 831.07 281.42 831.11 283.49 831.14 285.56 831.17 287.63 831.2 289.7 831.23 291.76 831.25 293.83 831.27 295.9 831.29 297.97 831.31 300.04 831.32 302.1 831.34 304.17 831.35 306.24 831.36 308.31 831.37 310.38 831.38 312.44 831.39 314.51 831.4 316.58 831.41 318.65 831.41 320.72 831.42 322.78 831.43 324.85 831.43 326.92 831.43 328.99 831.44 331.06 831.44 333.12 831.45 335.19 831.45 337.26 831.45 339.33 831.46 341.4 831.46 343.46 831.46 345.53 831.46 347.6 831.46 349.67 831.47 351.74 831.47 353.8 831.47 355.87 831.47 357.94 831.47 360.01 831.47 362.08 831.47 364.14 831.47 366.21 831.47 368.28 831.47 370.35 831.48 372.42 831.48 374.48 831.48 376.55 831.48 378.62 831.48 380.69 831.48 382.76 831.48 384.82 831.48 386.89 831.48 388.96 831.48 391.03 831.48 393.1 831.48 395.16 831.48 397.23 831.48 399.3 831.48 401.37 831.48 403.44 831.48 405.5 831.48 407.57 831.48 409.64 831.48 411.71 831.48 413.78 831.48 415.84 831.48 417.91 831.48 419.98 831.48 422.05 831.48 424.12 831.48 426.18 831.48 428.25 831.48 430.32 831.48 432.39 831.48 434.46 831.48 436.52 831.48 438.59 831.48 440.66 831.48 442.73 831.48 444.8 831.48 446.86 831.48 448.93 831.48 451 831.48 453.07 831.48 455.14 831.48 457.2 831.48 459.27 831.48 461.34 831.48 463.41 831.48 465.48 831.48 467.54 831.48 469.61 831.48 471.68 831.48 473.75 831.48 475.82 831.48 477.88 831.48 479.95 831.48 482.02 831.48 484.09 831.48 486.16 831.48 488.22 831.48 490.29 831.48 492.36 831.48 494.43 831.48 496.5 831.48 498.56 831.48 500.63 831.48 502.7 831.48 504.77 831.48 506.84 831.48 508.9 831.48 510.97 831.48 513.04 831.48 515.11 831.48 517.18 831.48 519.24 831.48 521.31 831.48 523.38 831.48 525.45 831.48 527.52 831.48 529.58 831.48 531.65 831.48 533.72 831.48 535.79 831.48 537.86 831.48 539.92 831.48 541.99 831.48 544.06 831.48 546.13 831.48 548.2 831.48 550.26 831.48 552.33 831.48 554.4 831.48 556.47 831.48 558.54 831.48 560.6 831.48 562.67 831.48 564.74 831.48 566.81 831.48 568.88 831.48 570.94 831.48 573.01 831.48 575.08 831.48 577.15 831.48 579.22 831.48 581.28 831.48 583.35 831.48 585.42 831.48 587.49 831.48 589.56 831.48 591.62 831.48 593.69 831.48 595.76 831.48 597.83 831.48 599.9 831.48 601.96 831.48 604.03 831.48 606.1 831.48 608.17 831.48 610.24 831.48 612.3 831.48 614.37 831.48 616.44 831.48 618.51 831.48 620.58 831.48 622.64 831.48 624.71 831.48 626.78 831.48 628.85 831.48 630.92 831.48 632.98 831.48 635.05 831.48 637.12 831.48 639.19 831.48 641.26 831.48 643.32 831.48 645.39 831.48 647.46 831.48 649.53 831.48 651.6 831.48 653.66 831.48 655.73 831.48 657.8 831.48 659.87 831.48 661.94 831.48 664 831.48 666.07 831.48 668.14 831.48 670.21 831.48 672.28 831.48 674.34 831.48 676.41 831.48 678.48 831.48 680.55 831.48 682.62 831.48 684.68 831.48 686.75 831.48 688.82 831.48 690.89 831.48 692.96 831.48 695.02 831.48 697.09 831.48 699.16 831.48 701.23 831.48 703.3 831.48 705.36 831.48 707.43 831.48 709.5 831.48 711.57 831.48 713.64 831.48 715.7 831.48 717.77 831.48 719.84 831.48 721.91 831.48 723.98 831.48 726.04 831.48 728.11 831.48 730.18 831.48 732.25 831.48 734.32 831.48 736.38 831.48 738.45 831.48 740.52 831.48 742.59 831.48 744.66 831.48 746.72 831.48 748.79 831.48 750.86 831.48 752.93 831.48 755 831.48 757.06 831.48 759.13 831.48 761.2 831.48 763.27 831.48 765.34 831.48 767.4 831.48 769.47 831.48 771.54 831.48 773.61 831.48 775.68 831.48 777.74 831.48 779.81 831.48 781.88 831.48 783.95 831.48 786.02 831.48 788.08 831.48 790.15 831.48 792.22 831.48 794.29 831.48 796.36 831.48 798.42 831.48 800.49 831.48 802.56 831.48 804.63 831.48 806.7 831.48 808.76 831.48 810.83 831.48 812.9 831.48 814.97 831.48 817.04 831.48 819.1 831.48 821.17 831.48 823.24 831.48 825.31 831.48 827.38 831.48 829.44 831.48 831.51 831.48 833.58 831.48 835.65 831.48 837.72 831.48 839.78 831.48 841.85 831.48 843.92 831.48 845.99 831.48 848.06 831.48 850.12 831.48 852.19 831.48 854.26 831.48 856.33 831.48 858.4 831.48 860.46 831.48 862.53 831.48 864.6 831.48 866.67 831.48 868.74 831.48 870.8 831.48 872.87 831.48 874.94 831.48 877.01 831.48 879.08 831.48 881.14 831.48 883.21 831.48 885.28 831.48 887.35 831.48 889.42 831.48 891.48 831.48 893.55 831.48 895.62 831.48 897.69 831.48 899.76 831.48 901.82 831.48 903.89 831.48 905.96 831.48 908.03 831.48 910.1 831.48 912.16 831.48 914.23 831.48 916.3 831.48 918.37 831.48 920.44 831.48 922.5 831.48 924.57 831.48 926.64 831.48 928.71 831.48 930.78 831.48 932.84 831.48 934.91 831.48 936.98 831.48 939.05 831.48 941.12 831.48 943.18 831.48 945.25 831.48 947.32 831.48 949.39 831.48 951.46 831.48 953.52 831.48 955.59 831.48 957.66 831.48 959.73 831.48 961.8 831.48 963.86 831.48 965.93 831.48 968 831.48" fill="none" stroke="#ff00ff" stroke-width="5.2" stroke-linejoin="round" clip-path="url(#ccb)"/>
<path d="M140.8 506.3V901.11M132.5 892.51H969.2" stroke="#404040" stroke-width="2.5" fill="none"/>
<path d="M132.5 892.51H140.8M136.3 865H140.8M132.5 837.48H140.8M136.3 809.97H140.8M132.5 782.45H140.8M136.3 754.94H140.8M132.5 727.42H140.8M136.3 699.9H140.8M132.5 672.39H140.8M136.3 644.88H140.8M132.5 617.36H140.8M136.3 589.85H140.8M132.5 562.33H140.8M136.3 534.82H140.8M132.5 507.3H140.8" stroke="#404040" stroke-width="2" fill="none"/>
<path d="M140.8 892.51V901.11M182.16 892.51V897.11M223.52 892.51V901.11M264.88 892.51V897.11M306.24 892.51V901.11M347.6 892.51V897.11M388.96 892.51V901.11M430.32 892.51V897.11M471.68 892.51V901.11M513.04 892.51V897.11M554.4 892.51V901.11M595.76 892.51V897.11M637.12 892.51V901.11M678.48 892.51V897.11M719.84 892.51V901.11M761.2 892.51V897.11M802.56 892.51V901.11M843.92 892.51V897.11M885.28 892.51V901.11M926.64 892.51V897.11M968 892.51V901.11" stroke="#404040" stroke-width="2.2" fill="none"/>
<text x="129" y="902.81" font-size="29" fill="#404040" text-anchor="end" textLength="35.6" lengthAdjust="spacingAndGlyphs">0.1</text>
<text x="129" y="847.78" font-size="29" fill="#404040" text-anchor="end" textLength="35.6" lengthAdjust="spacingAndGlyphs">0.2</text>
<text x="129" y="792.75" font-size="29" fill="#404040" text-anchor="end" textLength="35.6" lengthAdjust="spacingAndGlyphs">0.3</text>
<text x="129" y="737.72" font-size="29" fill="#404040" text-anchor="end" textLength="35.6" lengthAdjust="spacingAndGlyphs">0.4</text>
<text x="129" y="682.69" font-size="29" fill="#404040" text-anchor="end" textLength="35.6" lengthAdjust="spacingAndGlyphs">0.5</text>
<text x="129" y="627.66" font-size="29" fill="#404040" text-anchor="end" textLength="35.6" lengthAdjust="spacingAndGlyphs">0.6</text>
<text x="129" y="572.63" font-size="29" fill="#404040" text-anchor="end" textLength="35.6" lengthAdjust="spacingAndGlyphs">0.7</text>
<text x="129" y="517.6" font-size="29" fill="#404040" text-anchor="end" textLength="35.6" lengthAdjust="spacingAndGlyphs">0.8</text>
<text x="140.8" y="932.6" font-size="29" fill="#404040" text-anchor="middle">0</text>
<text x="223.52" y="932.6" font-size="29" fill="#404040" text-anchor="middle">2</text>
<text x="306.24" y="932.6" font-size="29" fill="#404040" text-anchor="middle">4</text>
<text x="388.96" y="932.6" font-size="29" fill="#404040" text-anchor="middle">6</text>
<text x="471.68" y="932.6" font-size="29" fill="#404040" text-anchor="middle">8</text>
<text x="554.4" y="932.6" font-size="29" fill="#404040" text-anchor="middle" textLength="29.2" lengthAdjust="spacingAndGlyphs">10</text>
<text x="637.12" y="932.6" font-size="29" fill="#404040" text-anchor="middle" textLength="29.2" lengthAdjust="spacingAndGlyphs">12</text>
<text x="719.84" y="932.6" font-size="29" fill="#404040" text-anchor="middle" textLength="29.2" lengthAdjust="spacingAndGlyphs">14</text>
<text x="802.56" y="932.6" font-size="29" fill="#404040" text-anchor="middle" textLength="29.2" lengthAdjust="spacingAndGlyphs">16</text>
<text x="885.28" y="932.6" font-size="29" fill="#404040" text-anchor="middle" textLength="29.2" lengthAdjust="spacingAndGlyphs">18</text>
<text x="968" y="932.6" font-size="29" fill="#404040" text-anchor="middle" textLength="29.2" lengthAdjust="spacingAndGlyphs">20</text>
<g clip-path="url(#cmb)">
<path d="M140.8 602.3V604.5M132.75 602.3H148.85M132.75 604.5H148.85" stroke="#404040" stroke-width="2.5" fill="none"/>
<path d="M182.16 587.3V620.4M174.11 587.3H190.21M174.11 620.4H190.21" stroke="#404040" stroke-width="2.5" fill="none"/>
<path d="M223.52 594.3V628.6M215.47 594.3H231.57M215.47 628.6H231.57" stroke="#404040" stroke-width="2.5" fill="none"/>
<path d="M264.88 596.1V628.9M256.83 596.1H272.93M256.83 628.9H272.93" stroke="#404040" stroke-width="2.5" fill="none"/>
<path d="M306.24 597.7V630.5M298.19 597.7H314.29M298.19 630.5H314.29" stroke="#404040" stroke-width="2.5" fill="none"/>
<path d="M347.6 599.3V634.6M339.55 599.3H355.65M339.55 634.6H355.65" stroke="#404040" stroke-width="2.5" fill="none"/>
<path d="M388.96 599.9V635.2M380.91 599.9H397.01M380.91 635.2H397.01" stroke="#404040" stroke-width="2.5" fill="none"/>
<path d="M430.32 601.5V637.4M422.27 601.5H438.37M422.27 637.4H438.37" stroke="#404040" stroke-width="2.5" fill="none"/>
<path d="M471.68 603.1V638.3M463.63 603.1H479.73M463.63 638.3H479.73" stroke="#404040" stroke-width="2.5" fill="none"/>
<path d="M513.04 603.1V639.3M504.99 603.1H521.09M504.99 639.3H521.09" stroke="#404040" stroke-width="2.5" fill="none"/>
<path d="M554.4 603.4V639.9M546.35 603.4H562.45M546.35 639.9H562.45" stroke="#404040" stroke-width="2.5" fill="none"/>
<path d="M595.76 604V640.9M587.71 604H603.81M587.71 640.9H603.81" stroke="#404040" stroke-width="2.5" fill="none"/>
<path d="M637.12 604V640.2M629.07 604H645.17M629.07 640.2H645.17" stroke="#404040" stroke-width="2.5" fill="none"/>
<path d="M678.48 611.6V645.6M670.43 611.6H686.53M670.43 645.6H686.53" stroke="#404040" stroke-width="2.5" fill="none"/>
<path d="M719.84 611.6V645.6M711.79 611.6H727.89M711.79 645.6H727.89" stroke="#404040" stroke-width="2.5" fill="none"/>
<path d="M761.2 612.2V645.8M753.15 612.2H769.25M753.15 645.8H769.25" stroke="#404040" stroke-width="2.5" fill="none"/>
<path d="M802.56 612.2V645.8M794.51 612.2H810.61M794.51 645.8H810.61" stroke="#404040" stroke-width="2.5" fill="none"/>
<path d="M843.92 612.8V646.3M835.87 612.8H851.97M835.87 646.3H851.97" stroke="#404040" stroke-width="2.5" fill="none"/>
<path d="M885.28 612.8V646.3M877.23 612.8H893.33M877.23 646.3H893.33" stroke="#404040" stroke-width="2.5" fill="none"/>
<path d="M926.64 613.7V646.9M918.59 613.7H934.69M918.59 646.9H934.69" stroke="#404040" stroke-width="2.5" fill="none"/>
<path d="M140.8 600.05L144.15 603.4L140.8 606.75L137.45 603.4Z" fill="#fff" stroke="#404040" stroke-width="2.1"/>
<path d="M182.16 600.65L185.51 604L182.16 607.35L178.81 604Z" fill="#fff" stroke="#404040" stroke-width="2.1"/>
<path d="M223.52 607.55L226.87 610.9L223.52 614.25L220.17 610.9Z" fill="#fff" stroke="#404040" stroke-width="2.1"/>
<path d="M264.88 609.15L268.23 612.5L264.88 615.85L261.53 612.5Z" fill="#fff" stroke="#404040" stroke-width="2.1"/>
<path d="M306.24 611.35L309.59 614.7L306.24 618.05L302.89 614.7Z" fill="#fff" stroke="#404040" stroke-width="2.1"/>
<path d="M347.6 613.25L350.95 616.6L347.6 619.95L344.25 616.6Z" fill="#fff" stroke="#404040" stroke-width="2.1"/>
<path d="M388.96 614.85L392.31 618.2L388.96 621.55L385.61 618.2Z" fill="#fff" stroke="#404040" stroke-width="2.1"/>
<path d="M430.32 616.75L433.67 620.1L430.32 623.45L426.97 620.1Z" fill="#fff" stroke="#404040" stroke-width="2.1"/>
<path d="M471.68 617.65L475.03 621L471.68 624.35L468.33 621Z" fill="#fff" stroke="#404040" stroke-width="2.1"/>
<path d="M513.04 617.95L516.39 621.3L513.04 624.65L509.69 621.3Z" fill="#fff" stroke="#404040" stroke-width="2.1"/>
<path d="M554.4 618.35L557.75 621.7L554.4 625.05L551.05 621.7Z" fill="#fff" stroke="#404040" stroke-width="2.1"/>
<path d="M595.76 619.55L599.11 622.9L595.76 626.25L592.41 622.9Z" fill="#fff" stroke="#404040" stroke-width="2.1"/>
<path d="M637.12 619.25L640.47 622.6L637.12 625.95L633.77 622.6Z" fill="#fff" stroke="#404040" stroke-width="2.1"/>
<path d="M678.48 625.55L681.83 628.9L678.48 632.25L675.13 628.9Z" fill="#fff" stroke="#404040" stroke-width="2.1"/>
<path d="M719.84 625.55L723.19 628.9L719.84 632.25L716.49 628.9Z" fill="#fff" stroke="#404040" stroke-width="2.1"/>
<path d="M761.2 626.05L764.55 629.4L761.2 632.75L757.85 629.4Z" fill="#fff" stroke="#404040" stroke-width="2.1"/>
<path d="M802.56 626.05L805.91 629.4L802.56 632.75L799.21 629.4Z" fill="#fff" stroke="#404040" stroke-width="2.1"/>
<path d="M843.92 626.35L847.27 629.7L843.92 633.05L840.57 629.7Z" fill="#fff" stroke="#404040" stroke-width="2.1"/>
<path d="M885.28 626.65L888.63 630L885.28 633.35L881.93 630Z" fill="#fff" stroke="#404040" stroke-width="2.1"/>
<path d="M926.64 626.95L929.99 630.3L926.64 633.65L923.29 630.3Z" fill="#fff" stroke="#404040" stroke-width="2.1"/>
<path d="M140.8 596.4V598.6M132.75 596.4H148.85M132.75 598.6H148.85" stroke="#404040" stroke-width="2.5" fill="none"/>
<path d="M182.16 793.1V812M174.11 793.1H190.21M174.11 812H190.21" stroke="#404040" stroke-width="2.5" fill="none"/>
<path d="M223.52 803.1V819.2M215.47 803.1H231.57M215.47 819.2H231.57" stroke="#404040" stroke-width="2.5" fill="none"/>
<path d="M264.88 825.5V837.2M256.83 825.5H272.93M256.83 837.2H272.93" stroke="#404040" stroke-width="2.5" fill="none"/>
<path d="M306.24 811.3V826.8M298.19 811.3H314.29M298.19 826.8H314.29" stroke="#404040" stroke-width="2.5" fill="none"/>
<path d="M347.6 817.6V829.3M339.55 817.6H355.65M339.55 829.3H355.65" stroke="#404040" stroke-width="2.5" fill="none"/>
<path d="M388.96 818.9V830.9M380.91 818.9H397.01M380.91 830.9H397.01" stroke="#404040" stroke-width="2.5" fill="none"/>
<path d="M430.32 810.4V826.1M422.27 810.4H438.37M422.27 826.1H438.37" stroke="#404040" stroke-width="2.5" fill="none"/>
<path d="M471.68 821.4V829.3M463.63 821.4H479.73M463.63 829.3H479.73" stroke="#404040" stroke-width="2.5" fill="none"/>
<path d="M513.04 818.3V826.8M504.99 818.3H521.09M504.99 826.8H521.09" stroke="#404040" stroke-width="2.5" fill="none"/>
<path d="M554.4 836.5V844.1M546.35 836.5H562.45M546.35 844.1H562.45" stroke="#404040" stroke-width="2.5" fill="none"/>
<path d="M595.76 834V844.1M587.71 834H603.81M587.71 844.1H603.81" stroke="#404040" stroke-width="2.5" fill="none"/>
<path d="M637.12 830.9V837.8M629.07 830.9H645.17M629.07 837.8H645.17" stroke="#404040" stroke-width="2.5" fill="none"/>
<path d="M678.48 842.5V847.2M670.43 842.5H686.53M670.43 847.2H686.53" stroke="#404040" stroke-width="2.5" fill="none"/>
<path d="M719.84 834V841.9M711.79 834H727.89M711.79 841.9H727.89" stroke="#404040" stroke-width="2.5" fill="none"/>
<path d="M761.2 846.8V851.2M753.15 846.8H769.25M753.15 851.2H769.25" stroke="#404040" stroke-width="2.5" fill="none"/>
<path d="M802.56 823.5V835.1M794.51 823.5H810.61M794.51 835.1H810.61" stroke="#404040" stroke-width="2.5" fill="none"/>
<path d="M843.92 830.2V841M835.87 830.2H851.97M835.87 841H851.97" stroke="#404040" stroke-width="2.5" fill="none"/>
<path d="M885.28 830.2V834.3M877.23 830.2H893.33M877.23 834.3H893.33" stroke="#404040" stroke-width="2.5" fill="none"/>
<path d="M926.64 843.9V848.8M918.59 843.9H934.69M918.59 848.8H934.69" stroke="#404040" stroke-width="2.5" fill="none"/>
<circle cx="140.8" cy="597.5" r="3.7" fill="#000" stroke="#404040" stroke-width="2.2"/>
<circle cx="182.16" cy="802.5" r="3.7" fill="#000" stroke="#404040" stroke-width="2.2"/>
<circle cx="223.52" cy="811.3" r="3.7" fill="#000" stroke="#404040" stroke-width="2.2"/>
<circle cx="264.88" cy="831.8" r="3.7" fill="#000" stroke="#404040" stroke-width="2.2"/>
<circle cx="306.24" cy="819.2" r="3.7" fill="#000" stroke="#404040" stroke-width="2.2"/>
<circle cx="347.6" cy="823.9" r="3.7" fill="#000" stroke="#404040" stroke-width="2.2"/>
<circle cx="388.96" cy="825.2" r="3.7" fill="#000" stroke="#404040" stroke-width="2.2"/>
<circle cx="430.32" cy="818.6" r="3.7" fill="#000" stroke="#404040" stroke-width="2.2"/>
<circle cx="471.68" cy="825.2" r="3.7" fill="#000" stroke="#404040" stroke-width="2.2"/>
<circle cx="513.04" cy="822.4" r="3.7" fill="#000" stroke="#404040" stroke-width="2.2"/>
<circle cx="554.4" cy="840.3" r="3.7" fill="#000" stroke="#404040" stroke-width="2.2"/>
<circle cx="595.76" cy="838.7" r="3.7" fill="#000" stroke="#404040" stroke-width="2.2"/>
<circle cx="637.12" cy="834" r="3.7" fill="#000" stroke="#404040" stroke-width="2.2"/>
<circle cx="678.48" cy="845" r="3.7" fill="#000" stroke="#404040" stroke-width="2.2"/>
<circle cx="719.84" cy="837.8" r="3.7" fill="#000" stroke="#404040" stroke-width="2.2"/>
<circle cx="761.2" cy="848.8" r="3.7" fill="#000" stroke="#404040" stroke-width="2.2"/>
<circle cx="802.56" cy="829.3" r="3.7" fill="#000" stroke="#404040" stroke-width="2.2"/>
<circle cx="843.92" cy="835.7" r="3.7" fill="#000" stroke="#404040" stroke-width="2.2"/>
<circle cx="885.28" cy="832.2" r="3.7" fill="#000" stroke="#404040" stroke-width="2.2"/>
<circle cx="926.64" cy="846.2" r="3.7" fill="#000" stroke="#404040" stroke-width="2.2"/>
</g>
<text x="485.7" y="967.9" font-size="35" fill="#404040" textLength="122.6" lengthAdjust="spacingAndGlyphs">Iteration</text>
<text transform="translate(74.2 847.1) rotate(-90)" font-size="35" fill="#404040" textLength="288.8" lengthAdjust="spacingAndGlyphs">Loss Function Value</text>
<text x="158.2" y="549" font-size="48" fill="#000">(b)</text>
<rect x="507.8" y="656.2" width="445.2" height="152.4" fill="#fff" stroke="#000" stroke-width="2.4"/>
<text x="540.2" y="687.4" font-size="31.3" fill="#000" textLength="324" lengthAdjust="spacingAndGlyphs">Data of Classical C-P layer</text>
<text x="540.2" y="724.8" font-size="31.3" fill="#000" textLength="383" lengthAdjust="spacingAndGlyphs">Fit Curve of Classical C-P layer</text>
<text x="540.2" y="762.4" font-size="31.3" fill="#000" textLength="352" lengthAdjust="spacingAndGlyphs">Data of Correlated C-P layer</text>
<text x="540.2" y="799.8" font-size="31.3" fill="#000" textLength="408" lengthAdjust="spacingAndGlyphs">Fit Curve of Correlated C-P layer</text>
<path d="M524.6 671.9L528.6 675.9L524.6 679.9L520.6 675.9Z" fill="#fff" stroke="#404040" stroke-width="2.6"/>
<line x1="512.4" x2="536.2" y1="714.3" y2="714.3" stroke="#ff0000" stroke-width="5.2"/>
<circle cx="523.8" cy="752.4" r="3.7" fill="#000" stroke="#404040" stroke-width="2.2"/>
<line x1="512.4" x2="536.2" y1="789" y2="789" stroke="#ff00ff" stroke-width="5.2"/>
<rect x="154.3" y="1009.2" width="809.3" height="381.4" fill="#5f5f7f"/>
<polygon points="154.3,1118.6 176.8,1118.6 203.6,1130.3 223.7,1132 240.4,1140.3 273.9,1148.7 294,1148.7 310.7,1157 350.8,1157 360.9,1167.1 417.8,1167.1 441.2,1180.5 486.8,1180.2 516.9,1191.9 573.8,1191.9 593.9,1204.3 652.4,1204.3 677.5,1217.7 756.3,1217.8 780.7,1230.3 832.4,1230.3 859.5,1241.9 937,1241.9 963.6,1253.9 963.6,1390.6 154.3,1390.6" fill="#bfdcc0"/>
<polygon points="154.3,1304.5 238.8,1304.5 252.2,1316.2 434.6,1316.2 455,1328 719.7,1328 752,1341.6 858,1341.6 886,1353.3 963.6,1353.3 963.6,1390.6 154.3,1390.6" fill="#808080"/>
<path d="M150.6 1009.2V1390.6M231.9 1009.2V1390.6M313.2 1009.2V1390.6M394.5 1009.2V1390.6M475.8 1009.2V1390.6M557.1 1009.2V1390.6M638.4 1009.2V1390.6M719.7 1009.2V1390.6M801 1009.2V1390.6M882.3 1009.2V1390.6M143.5 1342.93H973M143.5 1295.25H973M143.5 1247.58H973M143.5 1199.9H973M143.5 1152.23H973M143.5 1104.55H973M143.5 1056.88H973" stroke="#303030" stroke-width="1.05" stroke-dasharray="3.6 2.85" fill="none" opacity="0.78"/>
<path d="M963.6 1009.2V1390.6M154.3 1009.2H963.6" stroke="#8d8d86" stroke-width="1" stroke-dasharray="3.6 2.85" fill="none" opacity="0.6"/>
<path d="M143.5 1009.2H154.3M963.6 1009.2H973" stroke="#303030" stroke-width="1.05" stroke-dasharray="3.6 2.85" fill="none" opacity="0.78"/>
<path d="M142.6 1008.4V1391.5M134.8 1390.6H972.5" stroke="#404040" stroke-width="1.9" fill="none"/>
<path d="M134.2 1390.6H142.6M134.2 1342.93H142.6M134.2 1295.25H142.6M134.2 1247.58H142.6M134.2 1199.9H142.6M134.2 1152.23H142.6M134.2 1104.55H142.6M134.2 1056.88H142.6M134.2 1009.2H142.6M138 1366.76H142.6M138 1319.09H142.6M138 1271.41H142.6M138 1223.74H142.6M138 1176.06H142.6M138 1128.39H142.6M138 1080.71H142.6M138 1033.04H142.6M150.6 1390.6V1398.6M231.9 1390.6V1398.6M313.2 1390.6V1398.6M394.5 1390.6V1398.6M475.8 1390.6V1398.6M557.1 1390.6V1398.6M638.4 1390.6V1398.6M719.7 1390.6V1398.6M801 1390.6V1398.6M882.3 1390.6V1398.6M963.6 1390.6V1398.6M191.25 1390.6V1394.8M272.55 1390.6V1394.8M353.85 1390.6V1394.8M435.15 1390.6V1394.8M516.45 1390.6V1394.8M597.75 1390.6V1394.8M679.05 1390.6V1394.8M760.35 1390.6V1394.8M841.65 1390.6V1394.8M922.95 1390.6V1394.8" stroke="#404040" stroke-width="1.9" fill="none"/>
<text x="127.3" y="1020.5" font-size="32" fill="#404040" text-anchor="end">2</text>
<text x="127.3" y="1068.17" font-size="32" fill="#404040" text-anchor="end">1.5</text>
<text x="127.3" y="1115.85" font-size="32" fill="#404040" text-anchor="end">1</text>
<text x="127.3" y="1163.53" font-size="32" fill="#404040" text-anchor="end">0.5</text>
<text x="127.3" y="1211.2" font-size="32" fill="#404040" text-anchor="end">0</text>
<text x="127.3" y="1258.88" font-size="32" fill="#404040" text-anchor="end">-0.5</text>
<text x="127.3" y="1306.55" font-size="32" fill="#404040" text-anchor="end">-1</text>
<text x="127.3" y="1354.23" font-size="32" fill="#404040" text-anchor="end">-1.5</text>
<text x="127.3" y="1401.9" font-size="32" fill="#404040" text-anchor="end">-2</text>
<text x="150.6" y="1433.1" font-size="32" fill="#404040" text-anchor="middle">0</text>
<text x="231.9" y="1433.1" font-size="32" fill="#404040" text-anchor="middle">0.2</text>
<text x="313.2" y="1433.1" font-size="32" fill="#404040" text-anchor="middle">0.4</text>
<text x="394.5" y="1433.1" font-size="32" fill="#404040" text-anchor="middle">0.6</text>
<text x="475.8" y="1433.1" font-size="32" fill="#404040" text-anchor="middle">0.8</text>
<text x="557.1" y="1433.1" font-size="32" fill="#404040" text-anchor="middle">1</text>
<text x="638.4" y="1433.1" font-size="32" fill="#404040" text-anchor="middle">1.2</text>
<text x="719.7" y="1433.1" font-size="32" fill="#404040" text-anchor="middle">1.4</text>
<text x="801" y="1433.1" font-size="32" fill="#404040" text-anchor="middle">1.6</text>
<text x="882.3" y="1433.1" font-size="32" fill="#404040" text-anchor="middle">1.8</text>
<text x="963.6" y="1433.1" font-size="32" fill="#404040" text-anchor="middle">2</text>
<polyline points="154.1,1107 255.5,1140.5 357.5,1150.9 458.6,1173.3 558.1,1194.1 660.1,1216.5 761.2,1239 862.8,1249.1 963.6,1272.2" fill="none" stroke="#a01c3e" stroke-width="9.4" stroke-dasharray="28.6 9.5 9.5 9.55" stroke-dashoffset="0"/>
<polyline points="154.1,1304.1 255.7,1303.7 357.5,1303.7 459.5,1314.9 558.1,1314 660.1,1314 761.2,1324.8 862.8,1335.9 963.6,1346" fill="none" stroke="#a01c3e" stroke-width="9.4" stroke-dasharray="28.6 9.5 9.5 9.55" stroke-dashoffset="0"/>
<path d="M154.1 1086.6L173.7 1118.1H134.5Z" fill="#a01c3e"/><path d="M154.1 1101.4L160.2 1110.2H148Z" fill="#fff"/>
<path d="M255.5 1120.1L275.1 1151.6H235.9Z" fill="#a01c3e"/><path d="M255.5 1134.9L261.6 1143.7H249.4Z" fill="#fff"/>
<path d="M357.5 1130.5L377.1 1162H337.9Z" fill="#a01c3e"/><path d="M357.5 1145.3L363.6 1154.1H351.4Z" fill="#fff"/>
<path d="M458.6 1152.9L478.2 1184.4H439Z" fill="#a01c3e"/><path d="M458.6 1167.7L464.7 1176.5H452.5Z" fill="#fff"/>
<path d="M558.1 1173.7L577.7 1205.2H538.5Z" fill="#a01c3e"/><path d="M558.1 1188.5L564.2 1197.3H552Z" fill="#fff"/>
<path d="M660.1 1196.1L679.7 1227.6H640.5Z" fill="#a01c3e"/><path d="M660.1 1210.9L666.2 1219.7H654Z" fill="#fff"/>
<path d="M761.2 1218.6L780.8 1250.1H741.6Z" fill="#a01c3e"/><path d="M761.2 1233.4L767.3 1242.2H755.1Z" fill="#fff"/>
<path d="M862.8 1228.7L882.4 1260.2H843.2Z" fill="#a01c3e"/><path d="M862.8 1243.5L868.9 1252.3H856.7Z" fill="#fff"/>
<path d="M963.6 1251.8L983.2 1283.3H944Z" fill="#a01c3e"/><path d="M963.6 1266.6L969.7 1275.4H957.5Z" fill="#fff"/>
<path d="M154.1 1324.8L173.7 1292.9H134.5Z" fill="#a01c3e"/><path d="M154.1 1309.7L160.3 1300.7H147.9Z" fill="#fff"/>
<path d="M255.7 1324.4L275.3 1292.5H236.1Z" fill="#a01c3e"/><path d="M255.7 1309.3L261.9 1300.3H249.5Z" fill="#fff"/>
<path d="M357.5 1324.4L377.1 1292.5H337.9Z" fill="#a01c3e"/><path d="M357.5 1309.3L363.7 1300.3H351.3Z" fill="#fff"/>
<path d="M459.5 1335.6L479.1 1303.7H439.9Z" fill="#a01c3e"/><path d="M459.5 1320.5L465.7 1311.5H453.3Z" fill="#fff"/>
<path d="M558.1 1334.7L577.7 1302.8H538.5Z" fill="#a01c3e"/><path d="M558.1 1319.6L564.3 1310.6H551.9Z" fill="#fff"/>
<path d="M660.1 1334.7L679.7 1302.8H640.5Z" fill="#a01c3e"/><path d="M660.1 1319.6L666.3 1310.6H653.9Z" fill="#fff"/>
<path d="M761.2 1345.5L780.8 1313.6H741.6Z" fill="#a01c3e"/><path d="M761.2 1330.4L767.4 1321.4H755Z" fill="#fff"/>
<path d="M862.8 1356.6L882.4 1324.7H843.2Z" fill="#a01c3e"/><path d="M862.8 1341.5L869 1332.5H856.6Z" fill="#fff"/>
<path d="M963.6 1366.7L983.2 1334.8H944Z" fill="#a01c3e"/><path d="M963.6 1351.6L969.8 1342.6H957.4Z" fill="#fff"/>
<text x="167.9" y="1043.8" font-size="48" fill="#f4f4f4" stroke="#44445c" stroke-width="0.7" paint-order="stroke">(c)</text>
<rect x="634.2" y="1027.5" width="303.0" height="142" fill="#fff" stroke="#000" stroke-width="2.1"/>
<rect x="643.4" y="1035.1" width="42.5" height="30.8" fill="#5f5f7f"/>
<rect x="643.4" y="1083.6" width="42.5" height="30.1" fill="#bfdcc0"/>
<rect x="643.4" y="1131.2" width="42.5" height="31.1" fill="#808080"/>
<text x="691.3" y="1062.5" font-size="31.2" fill="#000" textLength="190.4" lengthAdjust="spacingAndGlyphs">Paramagnetic</text>
<text x="691.3" y="1157.3" font-size="31.2" fill="#000" textLength="240" lengthAdjust="spacingAndGlyphs">Antifaramagnetic</text>
<g font-weight="bold" fill="#000"><text x="690.6" y="1104.8" font-size="32.5" textLength="18.7" lengthAdjust="spacingAndGlyphs">Z</text><text x="709.6" y="1120.8" font-size="24.5">2</text><text x="743.2" y="1104.8" font-size="32.5" textLength="18.7" lengthAdjust="spacingAndGlyphs">Z</text><text x="762.5" y="1120.8" font-size="24.5">2</text></g><text x="725" y="1106.9" font-size="30" fill="#000">×</text>
<g transform="translate(520.2 1475.9)" fill="#404040"><text x="-0.4" y="0" font-size="43">h</text><text x="21.3" y="20.5" font-size="32" textLength="20.5" lengthAdjust="spacingAndGlyphs">1</text><text transform="translate(42.2 6.9) scale(1.14 1)" font-size="53.6">/</text><text transform="translate(61.8 7.1) scale(0.56 1)" font-size="53.7">J</text></g>
<g transform="translate(59.7 1237.7) rotate(-90)" fill="#404040"><text x="-0.4" y="0" font-size="43">h</text><text x="23.6" y="21.7" font-size="32">2</text><text transform="translate(42.2 6.9) scale(1.14 1)" font-size="53.6">/</text><text transform="translate(61.8 7.1) scale(0.56 1)" font-size="53.7">J</text></g>
</svg>
</body></html>
